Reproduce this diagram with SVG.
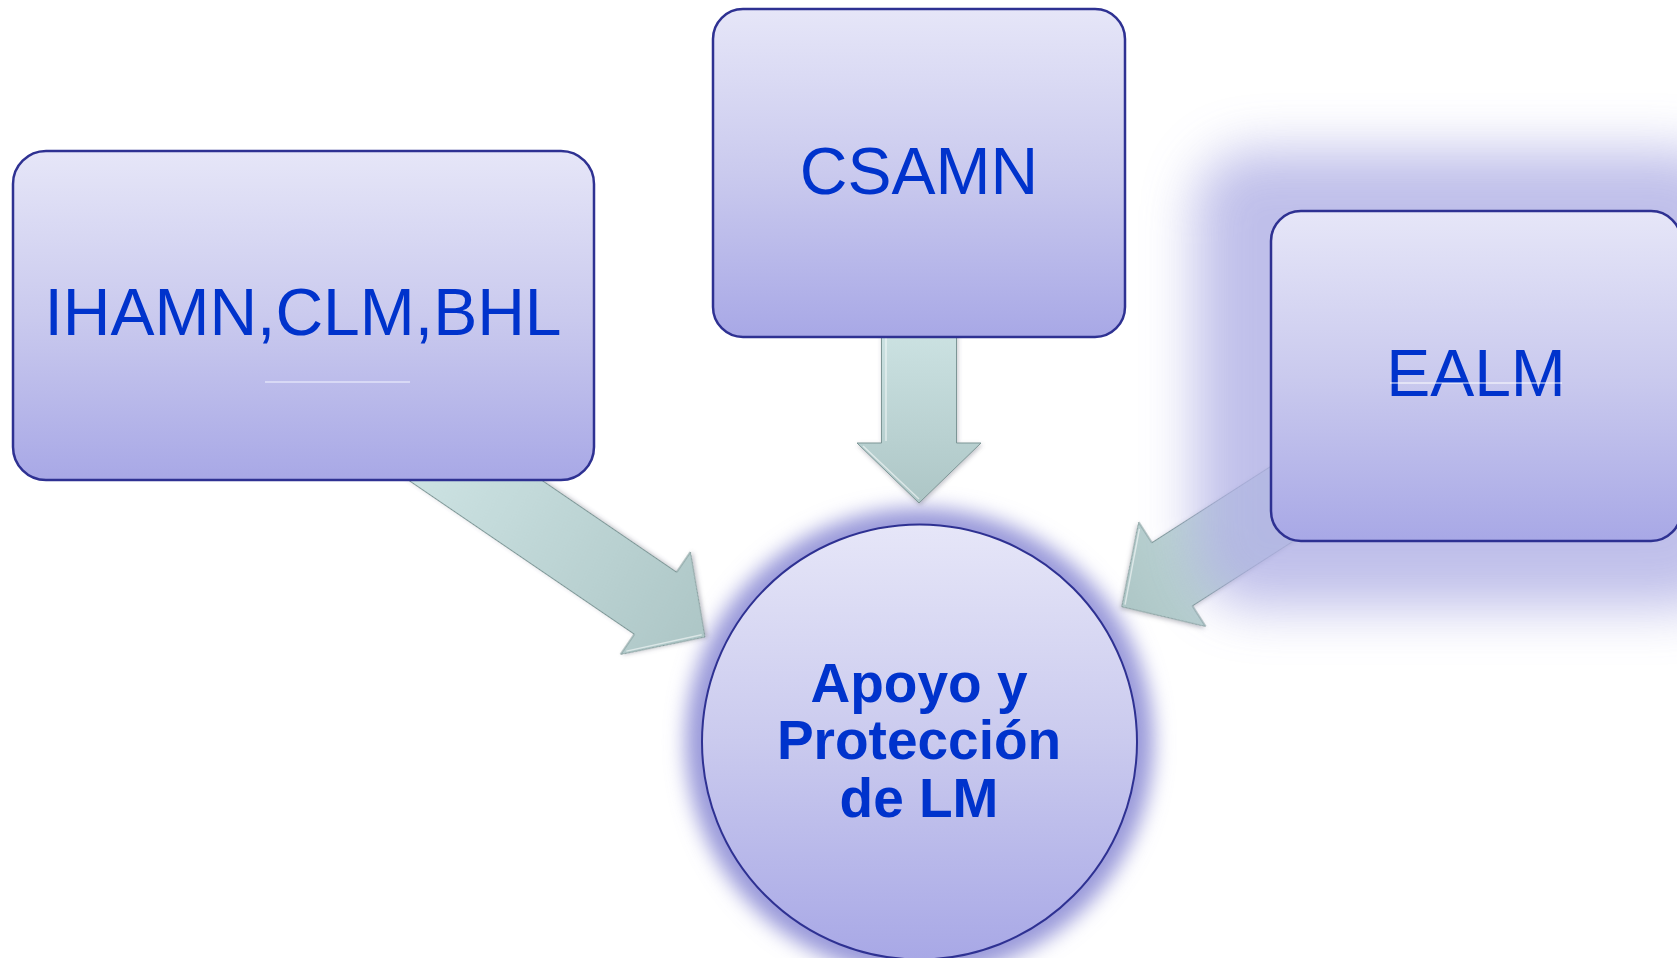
<svg xmlns="http://www.w3.org/2000/svg" width="1677" height="958" viewBox="0 0 1677 958">
<defs>
<style>
.box{fill:url(#nodeGrad);stroke:#2e3192;stroke-width:2.5}
.lbl{font-family:"Liberation Sans",Arial,sans-serif;fill:#0033cc;text-anchor:middle}
.big{font-size:66px}
.bold{font-size:55px;font-weight:bold}
.arrow{fill:url(#arrowGrad);stroke:#7d9696;stroke-width:1;filter:url(#arrShadow)}
.bevel{fill:none;stroke:#ffffff;stroke-opacity:0.55;stroke-width:1.5}
</style>
<linearGradient id="nodeGrad" x1="0" y1="0" x2="0" y2="1">
<stop offset="0" stop-color="#e6e6f8"/>
<stop offset="0.5" stop-color="#cacaee"/>
<stop offset="1" stop-color="#a8a8e6"/>
</linearGradient>
<linearGradient id="arrowGrad" x1="0" y1="0" x2="0" y2="1">
<stop offset="0" stop-color="#cfe5e5"/>
<stop offset="1" stop-color="#adc6c6"/>
</linearGradient>
<filter id="blurBig" x="-30%" y="-30%" width="160%" height="160%">
<feGaussianBlur stdDeviation="26"/>
</filter>
<filter id="blurSmall" x="-20%" y="-20%" width="140%" height="140%">
<feGaussianBlur stdDeviation="10"/>
</filter>
<filter id="arrShadow" x="-20%" y="-20%" width="140%" height="140%">
<feDropShadow dx="1" dy="2" stdDeviation="2" flood-color="#556" flood-opacity="0.35"/>
</filter>
</defs>
<rect width="1677" height="958" fill="#ffffff"/>

<!-- glow behind central circle -->
<circle cx="919.5" cy="742" r="234" fill="#9a9ada" filter="url(#blurSmall)"/>

<g id="connectors">
<g transform="translate(919,503)">
<path class="arrow" d="M -37.5,-190 L 37.5,-190 L 37.5,-60 L 62,-60 L 0,0 L -62,-60 L -37.5,-60 Z"/>
<path class="bevel" d="M -33,-180 L -33,-62 M -56,-57 L 0,-4"/>
</g>
<g transform="translate(705,637) rotate(-55.7)">
<path class="arrow" d="M -37.5,-360 L 37.5,-360 L 37.5,-60 L 62,-60 L 0,0 L -62,-60 L -37.5,-60 Z"/>
<path class="bevel" d="M -56,-57 L 0,-4"/>
</g>
<g transform="translate(1121.7,606.7) rotate(57.3)">
<path class="arrow" d="M -37.5,-230 L 37.5,-230 L 37.5,-60 L 62,-60 L 0,0 L -62,-60 L -37.5,-60 Z"/>
<path class="bevel" d="M -56,-57 L 0,-4"/>
</g>
</g>

<!-- glow around EALM box -->
<rect x="1195" y="150" width="540" height="458" rx="60" fill="#b0b0e5" opacity="0.8" filter="url(#blurBig)"/>

<g id="node-ihamn">
<rect class="box" x="13" y="151" width="581" height="329" rx="33"/>
<text class="lbl big" x="303" y="335">IHAMN,CLM,BHL</text>
<line x1="265" y1="382" x2="410" y2="382" stroke="#f4f6ff" stroke-width="1.2"/>
</g>

<g id="node-csamn">
<rect class="box" x="713" y="9" width="412" height="328" rx="30"/>
<text class="lbl big" x="919" y="194">CSAMN</text>
</g>

<g id="node-ealm">
<rect class="box" x="1271" y="211" width="410" height="330" rx="30"/>
<text class="lbl big" x="1476" y="396">EALM</text>
<line x1="1390" y1="383" x2="1562" y2="383" stroke="#ffffff" stroke-width="1"/>
</g>

<g id="node-center">
<circle cx="919.5" cy="742" r="217.5" fill="url(#nodeGrad)" stroke="#2e3192" stroke-width="2"/>
<text class="lbl bold" x="919" y="702">Apoyo y</text>
<text class="lbl bold" x="919" y="759">Protección</text>
<text class="lbl bold" x="919" y="817">de LM</text>
</g>
</svg>
